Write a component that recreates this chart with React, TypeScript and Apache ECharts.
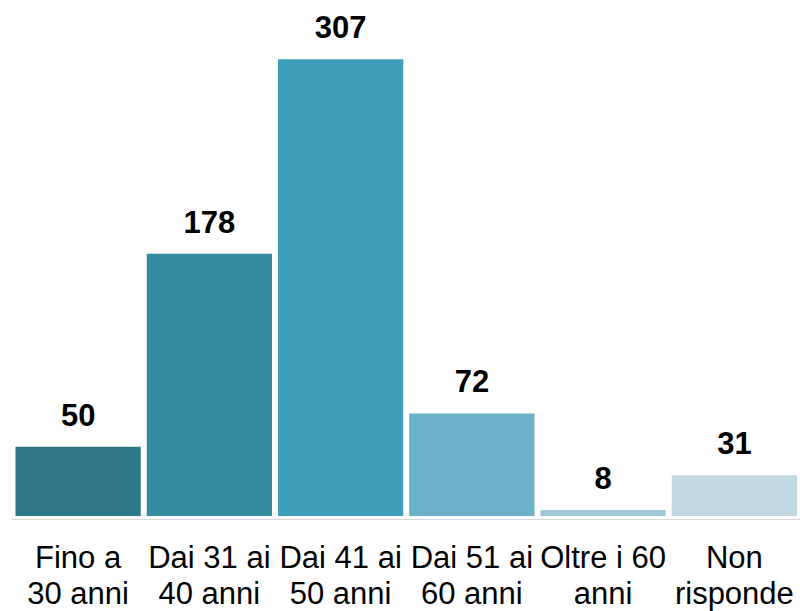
import React, { useEffect, useRef } from "react";
import * as echarts from "echarts";

const categories = [
  "Fino a\n30 anni",
  "Dai 31 ai\n40 anni",
  "Dai 41 ai\n50 anni",
  "Dai 51 ai\n60 anni",
  "Oltre i 60\nanni",
  "Non\nrisponde",
];
const values = [50, 178, 307, 72, 8, 31];
const palette = ["#2E7789", "#378CA3", "#3C9EB8", "#6AB1C9", "#9EC8D8", "#C1D9E3"];

const FONT = "'Liberation Sans', Arial, Helvetica, sans-serif";

export default function App() {
  const ref = useRef<HTMLDivElement>(null);
  useEffect(() => {
    if (!ref.current) return;
    const chart = echarts.init(ref.current, undefined, { renderer: "svg" });
    chart.setOption({
      animation: false,
      backgroundColor: "#ffffff",
      grid: { left: 12.5, right: 0, top: 36.6, bottom: 91.5, containLabel: false },
      xAxis: {
        type: "category",
        data: categories,
        axisLine: { show: true, lineStyle: { color: "#d9d9d9", width: 2 } },
        axisTick: { show: false },
        axisLabel: {
          interval: 0,
          margin: 21,
          color: "#000000",
          fontFamily: FONT,
          fontSize: 31,
          lineHeight: 35.5,
        },
      },
      yAxis: {
        type: "value",
        min: 0,
        max: 320,
        show: false,
        splitLine: { show: false },
      },
      series: [
        {
          type: "bar",
          barCategoryGap: "0%",
          data: values.map((v, i) => ({
            value: v,
            itemStyle: { color: palette[i] },
          })),
          itemStyle: { borderColor: "#ffffff", borderWidth: 3 },
          label: {
            show: true,
            position: "top",
            distance: 13,
            color: "#000000",
            fontFamily: FONT,
            fontWeight: "bold",
            fontSize: 31,
          },
        },
      ],
    });
    return () => chart.dispose();
  }, []);
  return (
    <div
      ref={ref}
      style={{ position: "absolute", left: 0, top: 0, width: 800, height: 611 }}
    />
  );
}
